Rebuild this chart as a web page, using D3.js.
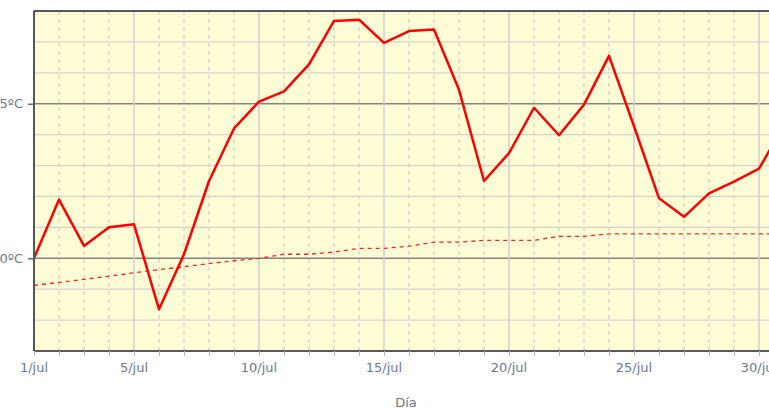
<!DOCTYPE html>
<html><head><meta charset="utf-8">
<script src="https://cdn.jsdelivr.net/npm/d3@7"></script>
<style>html,body{margin:0;padding:0;background:#fff;overflow:hidden}</style>
</head><body>
<svg id="c" width="769" height="410"></svg>
<script>
const days = d3.range(1, 32);
const tempDaily = [0.0,1.9,0.4,1.0,1.1,-1.65,0.13,2.5,4.2,5.07,5.4,6.27,7.68,7.72,6.97,7.35,7.4,5.45,2.5,3.4,4.87,3.98,4.97,6.55,4.27,1.94,1.34,2.1,2.48,2.9,4.3];
const tempMean = [-0.88,-0.78,-0.68,-0.58,-0.47,-0.37,-0.27,-0.17,-0.08,0.0,0.13,0.13,0.2,0.32,0.32,0.39,0.52,0.52,0.58,0.58,0.58,0.71,0.71,0.79,0.79,0.79,0.79,0.79,0.79,0.79,0.79];
const yTicks = [0, 5];
const yTickLabels = ["0ºC", "5ºC"];
const xTicks = [1, 5, 10, 15, 20, 25, 30];
const xTickLabels = ["1/jul", "5/jul", "10/jul", "15/jul", "20/jul", "25/jul", "30/jul"];
const xTitle = "Día";

const svg = d3.select("#c");
const L = 34, T = 11, B = 351;
const x = d3.scaleLinear().domain([1, 31]).range([L, L + 30 * 25]);
const y = d3.scaleLinear().domain([-3, 8]).range([B, T]);
const R = 800;
const txt = "#6a7a8e";
const FONT = "DejaVu Sans, Verdana, sans-serif";

svg.append("rect").attr("x", L).attr("y", T).attr("width", R - L).attr("height", B - T).attr("fill", "#fffdd6");

// horizontal grid
svg.append("g").selectAll("line").data(d3.range(-2, 8)).join("line")
  .attr("x1", L).attr("x2", R).attr("y1", d => y(d)).attr("y2", d => y(d))
  .attr("stroke", d => d % 5 === 0 ? "#85857a" : "#d3d3d0").attr("stroke-width", d => d % 5 === 0 ? 1.3 : 1.2);

// vertical grid
svg.append("g").selectAll("line").data(days.filter(d => d > 1)).join("line")
  .attr("x1", d => x(d)).attr("x2", d => x(d)).attr("y1", T).attr("y2", B)
  .attr("stroke", d => d % 5 === 0 ? "#cfcfcf" : "#cdcdc6")
  .attr("stroke-width", d => d % 5 === 0 ? 1.5 : 1.2)
  .attr("stroke-dasharray", d => d % 5 === 0 ? null : "4,4");

// lines
const line = d3.line().x((d, i) => x(days[i])).y(d => y(d));
svg.append("path").datum(tempMean).attr("d", line).attr("fill", "none")
  .attr("stroke", "#ff2020").attr("stroke-width", 1.3).attr("stroke-dasharray", "4,4");
svg.append("path").datum(tempDaily).attr("d", line).attr("fill", "none")
  .attr("stroke", "#ff0000").attr("stroke-width", 2.5).attr("stroke-linejoin", "round");

// frame
svg.append("line").attr("x1", L).attr("x2", R).attr("y1", T).attr("y2", T).attr("stroke", "#555").attr("stroke-width", 2);
svg.append("line").attr("x1", L).attr("x2", L).attr("y1", T).attr("y2", B).attr("stroke", "#555").attr("stroke-width", 2);

// x axis
const xAxis = d3.axisBottom(x).tickValues(days).tickSize(5).tickFormat("");
const gx = svg.append("g").attr("transform", `translate(0,${B})`).call(xAxis);
gx.select(".domain").attr("stroke", "#222").attr("stroke-width", 1.5).attr("d", `M${L},0H${R}`);
gx.selectAll(".tick line").attr("stroke", "#bbb");
svg.append("g").selectAll("text").data(xTicks).join("text")
  .attr("x", d => x(d)).attr("y", 372).attr("text-anchor", "middle")
  .attr("font-family", FONT).attr("font-size", 13).attr("fill", txt)
  .text((d, i) => xTickLabels[i]);

// y axis
const yAxis = d3.axisLeft(y).tickValues(yTicks).tickSize(6).tickFormat((d, i) => yTickLabels[i]);
const gy = svg.append("g").attr("transform", `translate(${L},0)`).call(yAxis);
gy.select(".domain").remove();
gy.selectAll(".tick line").attr("stroke", "#555").attr("stroke-width", 1.3);
gy.selectAll(".tick text").attr("font-family", FONT).attr("font-size", 13)
  .attr("fill", txt).attr("x", -11);

svg.append("text").attr("x", 406).attr("y", 407).attr("text-anchor", "middle")
  .attr("font-family", FONT).attr("font-size", 13).attr("fill", txt).text(xTitle);
</script>
</body></html>
